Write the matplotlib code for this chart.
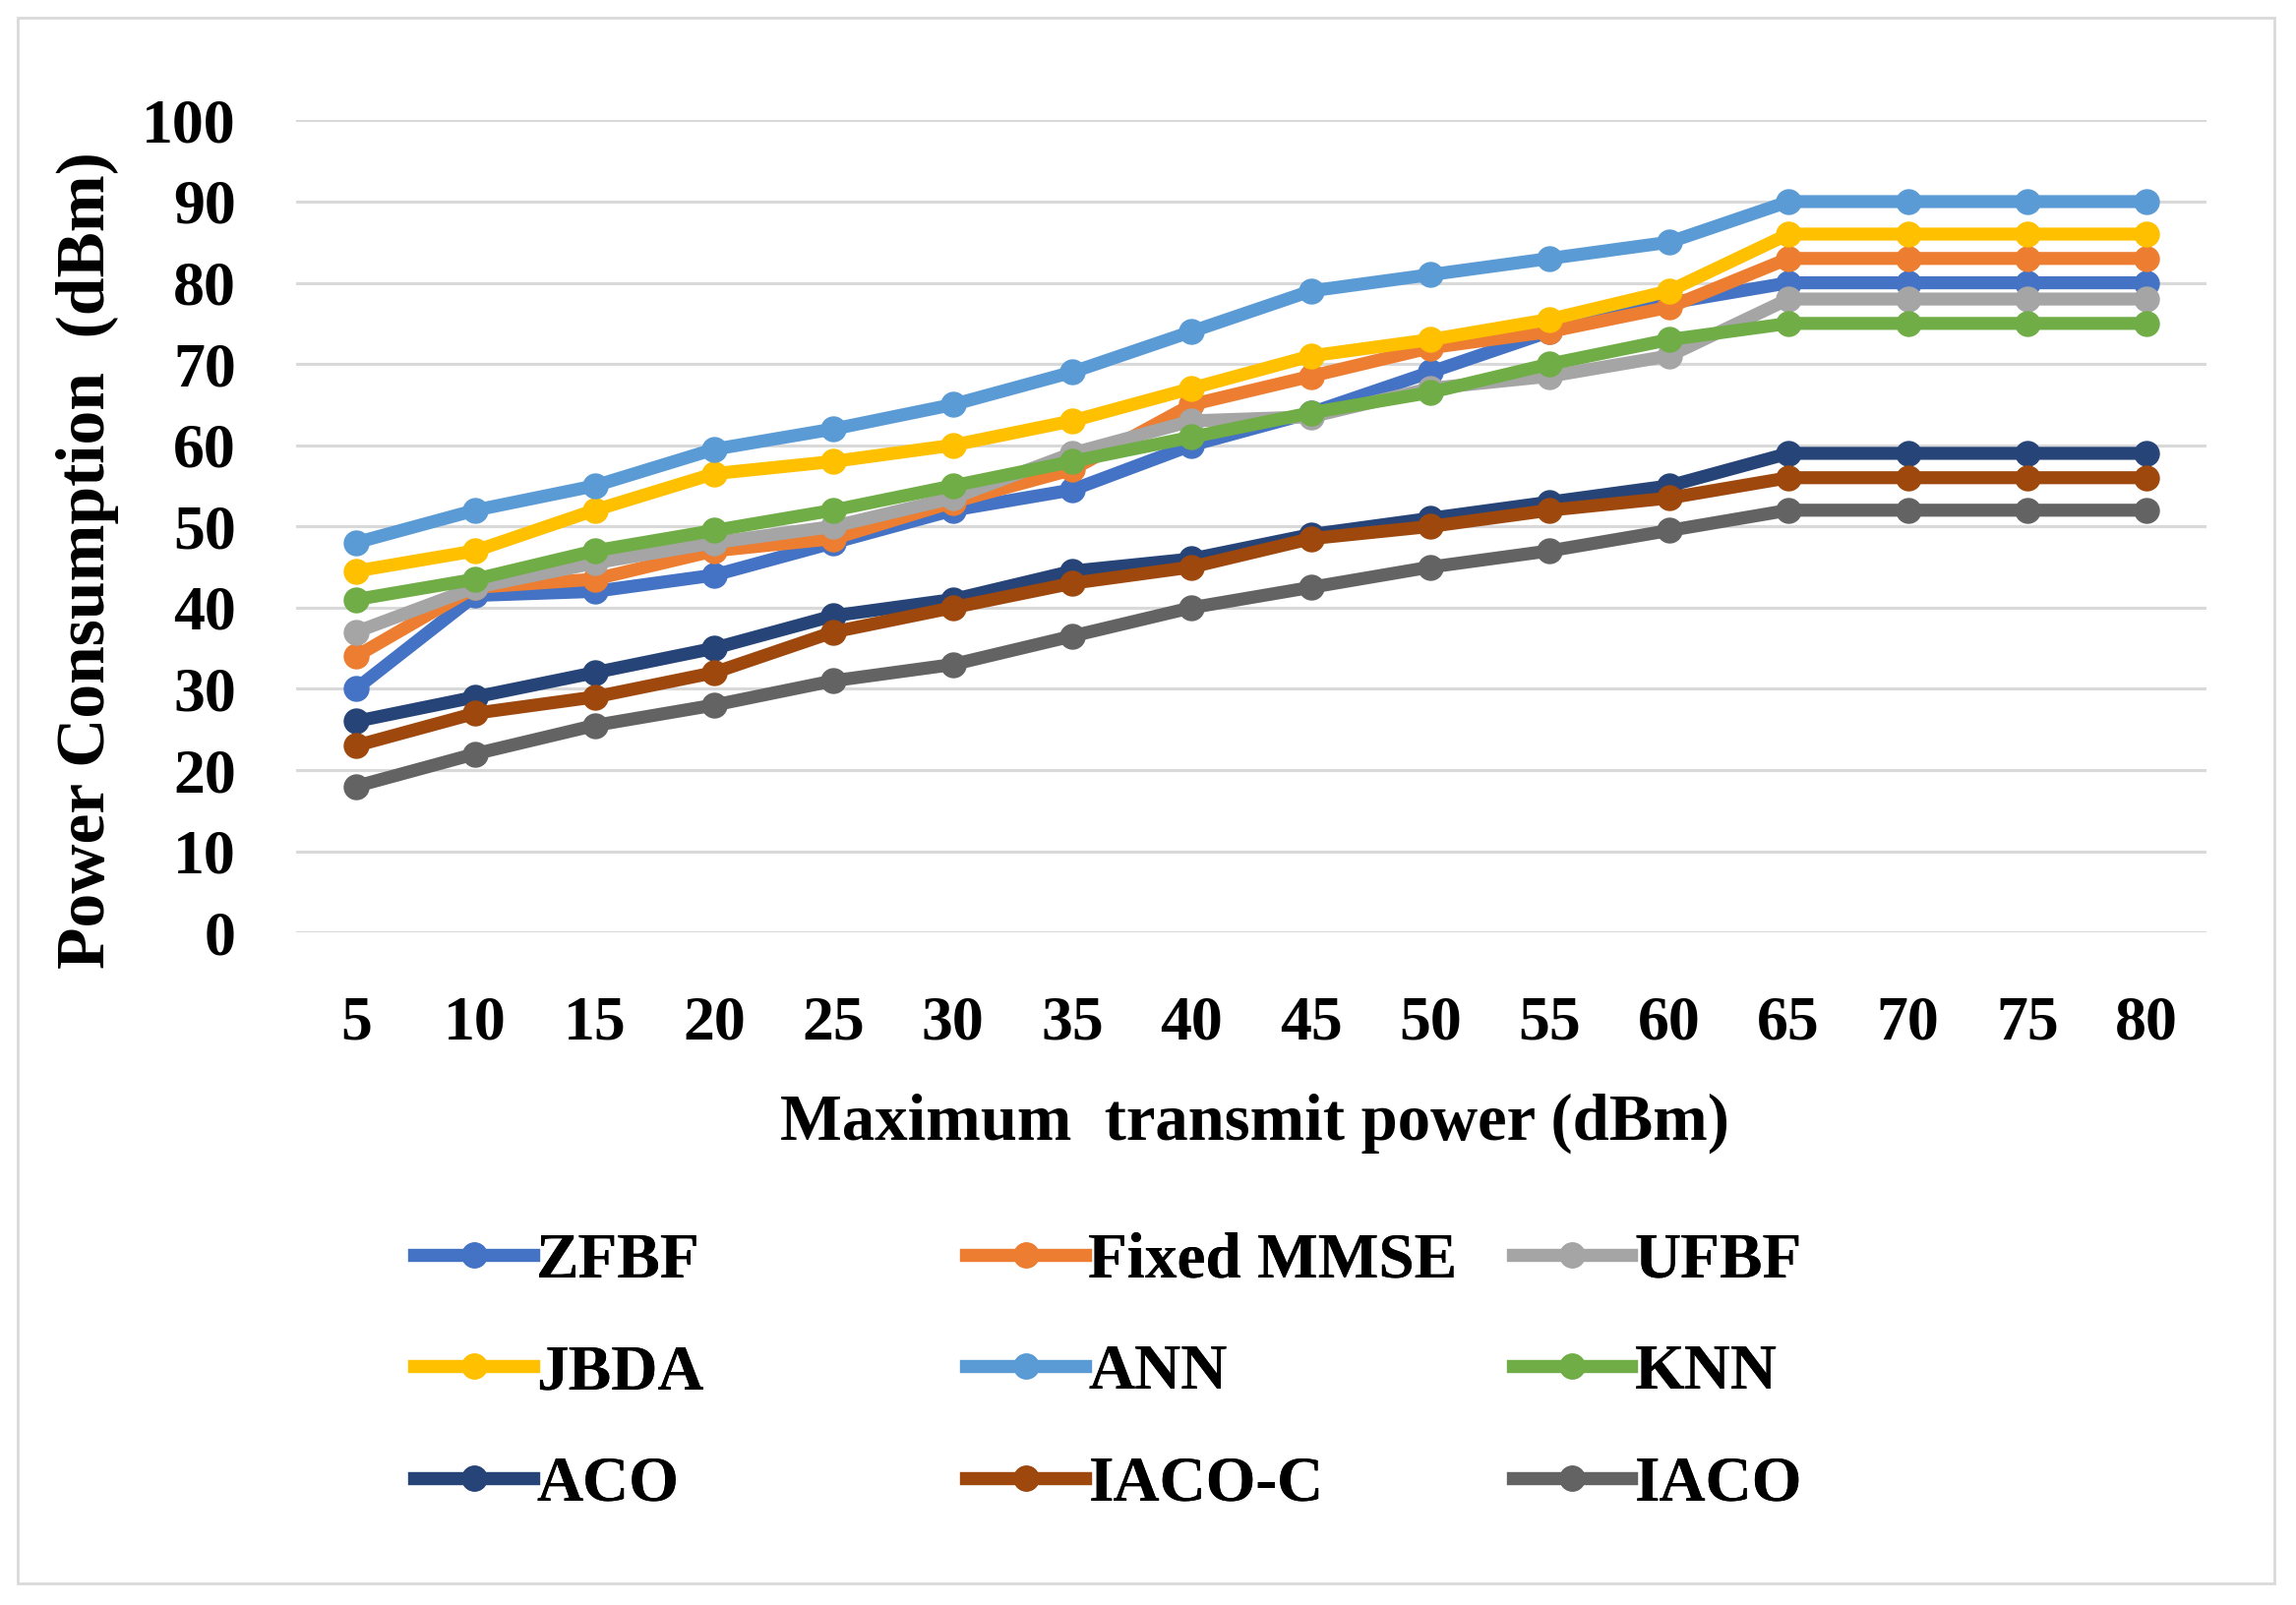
import matplotlib
matplotlib.use('Agg')
from matplotlib import pyplot as plt
from matplotlib.patches import Rectangle

# dados
potencia_max = ['5', '10', '15', '20', '25', '30', '35', '40',
                '45', '50', '55', '60', '65', '70', '75', '80']

zfbf = [30, 41.5, 42, 44, 48, 52, 54.5, 60, 64, 69, 74, 77.5, 80, 80, 80, 80]
fixed_mmse = [34, 42.5, 43.5, 47, 48.5, 53, 57, 65, 68.5, 72, 74, 77, 83, 83, 83, 83]
ufbf = [37, 42.5, 45.5, 48, 50, 53.5, 59, 63, 63.5, 67, 68.5, 71, 78, 78, 78, 78]
jbda = [44.5, 47, 52, 56.5, 58, 60, 63, 67, 71, 73, 75.5, 79, 86, 86, 86, 86]
ann = [48, 52, 55, 59.5, 62, 65, 69, 74, 79, 81, 83, 85, 90, 90, 90, 90]
knn = [41, 43.5, 47, 49.5, 52, 55, 58, 61, 64, 66.5, 70, 73, 75, 75, 75, 75]
aco = [26, 29, 32, 35, 39, 41, 44.5, 46, 49, 51, 53, 55, 59, 59, 59, 59]
iaco_c = [23, 27, 29, 32, 37, 40, 43, 45, 48.5, 50, 52, 53.5, 56, 56, 56, 56]
iaco = [18, 22, 25.5, 28, 31, 33, 36.5, 40, 42.5, 45, 47, 49.5, 52, 52, 52, 52]

nomes = ['ZFBF', 'Fixed MMSE', 'UFBF', 'JBDA', 'ANN', 'KNN', 'ACO', 'IACO-C', 'IACO']
series = [zfbf, fixed_mmse, ufbf, jbda, ann, knn, aco, iaco_c, iaco]
cores = ['#4472C4', '#ED7D31', '#A5A5A5', '#FFC000', '#5B9BD5',
         '#70AD47', '#264478', '#9E480E', '#636363']

plt.rcParams['font.family'] = ['Liberation Serif', 'DejaVu Serif']
plt.rcParams['font.weight'] = 'bold'

fig = plt.figure(figsize=(23.34, 16.32), dpi=100)
ax = fig.add_axes([0.129, 0.419, 0.832, 0.506])

x = list(range(len(potencia_max)))
linhas = []
for nome, valores, cor in zip(nomes, series, cores):
    l, = ax.plot(x, valores, color=cor, linewidth=9.5, marker='o',
                 markersize=18, label=nome, solid_joinstyle='round')
    linhas.append(l)

ax.set_xlim(-0.5, len(potencia_max) - 0.5)
ax.set_ylim(0, 100)
ax.set_yticks(range(0, 101, 10))
ax.set_xticks(x)
ax.set_xticklabels(potencia_max)
ax.tick_params(axis='both', length=0, labelsize=46)
ax.tick_params(axis='y', pad=44)
ax.tick_params(axis='x', pad=46)
for s in ax.spines.values():
    s.set_visible(False)
ax.grid(axis='y', color='#D9D9D9', linewidth=2.2)
ax.set_axisbelow(True)

fig.text(857 / 1568, 1 - 768 / 1097, 'Maximum  transmit power (dBm)',
         ha='center', va='center', fontsize=48, fontweight='bold')
fig.text(60 / 1568, 1 - 383 / 1097, 'Power Consumption  (dBm)',
         ha='center', va='center', rotation=90, fontsize=50, fontweight='bold')

# legenda em 3 colunas, preenchida por linha
colunas_x = [283 / 1568, 660 / 1568, 1033 / 1568]
for c in range(3):
    hs = [linhas[c + 3 * r] for r in range(3)]
    leg = fig.legend(hs, [h.get_label() for h in hs], loc='upper left',
                     bbox_to_anchor=(colunas_x[c], 1 - 842 / 1097),
                     frameon=False, fontsize=47, handlelength=1.85,
                     handletextpad=0.05, labelspacing=0.82, borderaxespad=0,
                     borderpad=0)
    fig.add_artist(leg)

# moldura externa
fig.add_artist(Rectangle((12 / 1568, 1 - 1082 / 1097), 1541 / 1568, 1070 / 1097,
                         transform=fig.transFigure, fill=False,
                         edgecolor='#D9D9D9', linewidth=2))

plt.savefig('out.png', dpi=100)
print("Gráfico salvo como out.png")
